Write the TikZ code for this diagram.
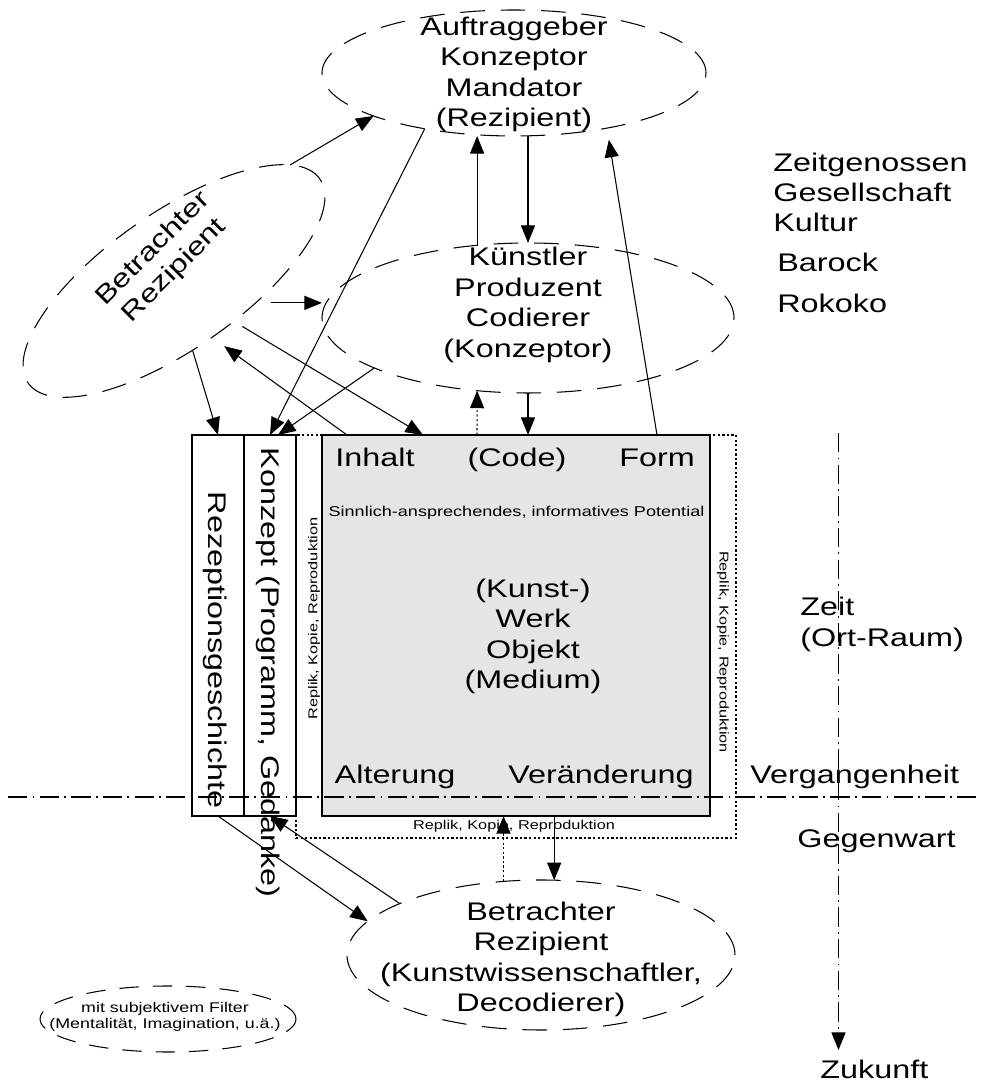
\documentclass[tikz,border=0pt]{standalone}
\usepackage{fontspec}
\setmainfont{Liberation Sans}[FakeStretch=1.27]
\usetikzlibrary{shapes,arrows.meta,positioning,calc}
\definecolor{werkcolor}{RGB}{229,229,229}
\definecolor{bordercolor}{RGB}{0,0,0}
\definecolor{arrowcolor}{RGB}{0,0,0}
\tikzset{
    person/.style={
        ellipse,
        draw=bordercolor,
        dash pattern=on 14pt off 9pt,
        line width=0.6pt,
        inner sep=0pt,
        outer sep=0pt
    },
    bigtext/.style={font=\fontsize{14.5}{17.3}\selectfont, align=center, inner sep=0pt},
    smalltext/.style={font=\fontsize{7.3}{8.8}\selectfont, inner sep=0pt},
    dotline/.style={dash pattern=on 1.3pt off 1.3pt},
    module/.style={rectangle, draw=bordercolor, line width=0.6pt, inner sep=0pt, outer sep=0pt},
    werkmodule/.style={module, fill=werkcolor},
    framemodule/.style={module, dotline},
    arrow/.style={->, >={Triangle[length=10pt,width=8pt]}, line width=0.6pt, color=arrowcolor},
    axis/.style={line width=0.6pt, dash pattern=on 11pt off 3pt on 1pt off 3pt}
}

\begin{document}
\begin{tikzpicture}
    \useasboundingbox (0,0) rectangle (19.62,21.68);

    % Persons
    \node[person, minimum width=7.68cm, minimum height=2.52cm] (auftrag) at (10.28,20.22) {};
    \node[bigtext] (auftragtext) at (10.28,20.19) {Auftraggeber\\Konzeptor\\Mandator\\(Rezipient)};
    \node[person, minimum width=8.24cm, minimum height=3cm] (kuenstler) at (10.56,15.32) {};
    \node[bigtext] (kuenstlertext) at (10.56,15.58) {Künstler\\Produzent\\Codierer\\(Konzeptor)};
    \node[person, minimum width=7.12cm, minimum height=2.72cm, rotate=35] (betrachter) at (3.48,16.06) {};
    \node[bigtext, rotate=45] (betrachtertext) at (3.28,16.48) {Betrachter\\Rezipient};
    \node[person, minimum width=7.76cm, minimum height=3cm] (wissen) at (10.82,2.58) {};
    \node[bigtext] (wissentext) at (10.82,2.49) {Betrachter\\Rezipient\\(Kunstwissenschaftler,\\Decodierer)};
    \node[person, dash pattern=on 11pt off 8pt, minimum width=5.12cm, minimum height=1.32cm] (filter) at (3.36,1.30) {};
    \node[bigtext, font=\fontsize{8}{9.1}\selectfont] (filtertext) at (3.30,1.34) {mit subjektivem Filter\\(Mentalität, Imagination, u.ä.)};

    % Werk
    \node[framemodule, minimum width=8.8cm, minimum height=8.06cm] (replik) at (10.32,8.95) {};
    \node[werkmodule, minimum width=7.76cm, minimum height=7.62cm] (werk) at (10.32,9.17) {};
    \node[module, minimum width=1.04cm, minimum height=7.62cm] (rezept) at (4.36,9.17) {};
    \node[module, minimum width=1.04cm, minimum height=7.62cm] (konz) at (5.40,9.17) {};
    \node[bigtext, rotate=-90] (rezepttext) at (4.30,8.68) {Rezeptionsgeschichte};
    \node[bigtext, rotate=-90] (konzepttext) at (5.36,8.23) {Konzept (Programm, Gedanke)};

    \node[bigtext, anchor=base] (inhalt) at (7.50,12.34) {Inhalt};
    \node[bigtext, anchor=base] (code) at (10.34,12.34) {(Code)};
    \node[bigtext, anchor=base] (form) at (13.14,12.34) {Form};
    \node[smalltext, font=\fontsize{8.1}{9.7}\selectfont, anchor=base] (potential) at (10.33,11.34) {Sinnlich-ansprechendes, informatives Potential};
    \node[bigtext] (werktext) at (10.66,8.95) {(Kunst-)\\Werk\\Objekt\\(Medium)};
    \node[bigtext, anchor=base] (alterung) at (7.90,6.00) {Alterung};
    \node[bigtext, anchor=base] (veraenderung) at (12.02,6.00) {Veränderung};
    \node[smalltext, anchor=base] (replikunten) at (10.28,5.08) {Replik, Kopie, Reproduktion};
    \node[smalltext, rotate=90] (repliklinks) at (6.28,9.31) {Replik, Kopie, Reproduktion};
    \node[smalltext, rotate=-90] (replikrechts) at (14.46,8.64) {Replik, Kopie, Reproduktion};

    % Zeit
    \node[bigtext, align=left, anchor=west] (zeitgenossen) at (15.46,17.83) {Zeitgenossen\\Gesellschaft\\Kultur};
    \node[bigtext, anchor=base west] (barock) at (15.54,16.24) {Barock};
    \node[bigtext, anchor=base west] (rokoko) at (15.54,15.42) {Rokoko};
    \node[bigtext, align=left, anchor=west] (zeit) at (16.00,9.19) {Zeit\\(Ort-Raum)};
    \node[bigtext, anchor=base west] (vergangenheit) at (15.00,6.00) {Vergangenheit};
    \node[bigtext, anchor=base west] (gegenwart) at (15.94,4.72) {Gegenwart};
    \node[bigtext, anchor=base west] (zukunft) at (16.40,0.10) {Zukunft};
    \coordinate (zeitanfang) at (16.77,13.02);
    \coordinate (zeitende) at (16.77,0.68);
    \coordinate (grenzelinks) at (0.16,5.74);
    \coordinate (grenzerechts) at (19.56,5.74);

    % Arrows
    \draw[arrow] (betrachter.10) -- (auftrag.197);
    \draw[arrow] (auftrag.212) -- (konz.north);
    \draw[arrow] (kuenstler.125) -- (kuenstler.125 |- auftrag.south);
    \draw[arrow] (kuenstler.north |- auftrag.south) -- (kuenstler.north);
    \draw[arrow] (werk.north -| form) -- ([yshift=-0.24cm]auftrag.330);
    \draw[arrow, shorten <=0.3cm] (betrachter.310) -- (betrachter.310 -| kuenstler.west);
    \draw[arrow] (betrachter.250) -- (rezept.north);
    \draw[arrow, shorten >=0.3cm] ($(werk.north west)+(0.5,0)$) -- (betrachter.269);
    \draw[arrow, shorten <=0.2cm] (betrachter.291) -- ($(werk.north west)+(2.02,0)$);
    \draw[arrow] (kuenstler.198) -- ($(konz.north)+(0.16,0)$);
    \draw[arrow, dotline] ($(werk.north west)+(3.1,0)$) -- (kuenstler.235);
    \draw[arrow] (kuenstler.south) -- (kuenstler.south |- werk.north);
    \draw[arrow, dotline] (wissen.117) -- (wissen.117 |- werk.south);
    \draw[arrow] (werk.south -| wissen.80) -- (wissen.80);
    \draw[arrow] (rezept.south) -- (wissen.169);
    \draw[arrow] (wissen.160) -- (konz.south);

    % Axes
    \draw[axis] (grenzelinks) -- (grenzerechts);
    \draw[arrow, axis] (zeitanfang) -- (zeitende);
\end{tikzpicture}
\end{document}
